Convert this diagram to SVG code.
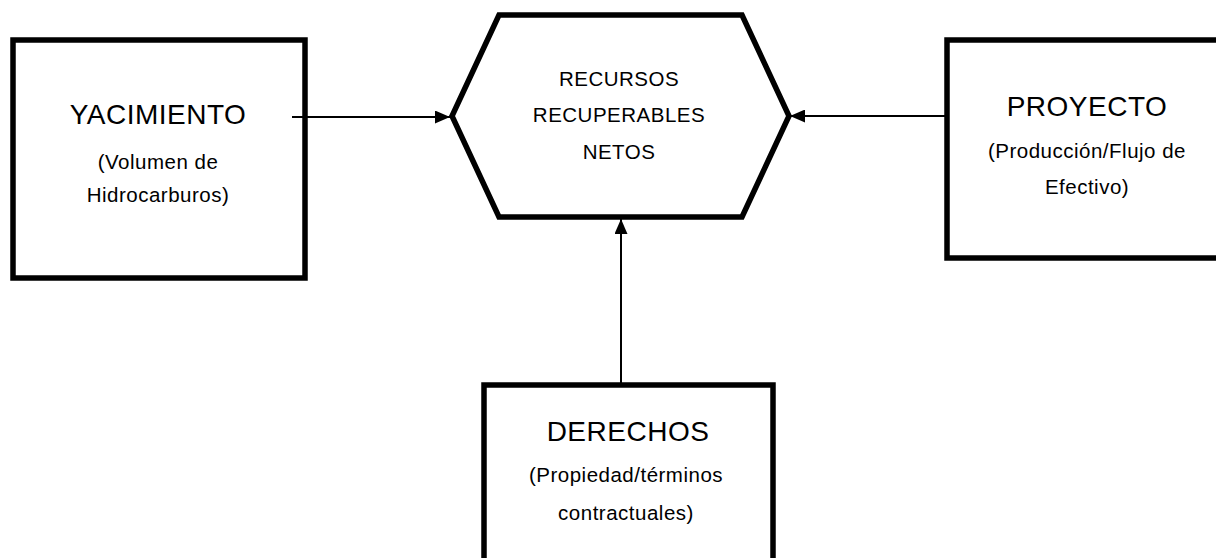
<svg xmlns="http://www.w3.org/2000/svg" width="1216" height="558" viewBox="0 0 1216 558">
<style>
.box{fill:#fff;stroke:#000;stroke-width:5.5}
.title{font-family:"Liberation Sans",Arial,sans-serif;font-size:28px;letter-spacing:0.5px;fill:#000;text-anchor:middle}
.sub{font-family:"Liberation Sans",Arial,sans-serif;font-size:20.5px;letter-spacing:0.5px;fill:#000;text-anchor:middle}
.conn{stroke:#000;stroke-width:2;fill:none}
</style>
<defs>
<marker id="ah" viewBox="0 0 15 13" refX="15" refY="6.5" markerWidth="15" markerHeight="13" markerUnits="userSpaceOnUse" orient="auto">
<path d="M0,0 L15,6.5 L0,13 Z" fill="#000"/>
</marker>
</defs>
<rect width="1216" height="558" fill="#fff"/>
<g id="yacimiento">
<rect class="box" x="13" y="40" width="292" height="238"/>
<text class="title" x="158" y="124">YACIMIENTO</text>
<text class="sub" x="158" y="169">(Volumen de</text>
<text class="sub" x="158" y="202">Hidrocarburos)</text>
</g>
<g id="recursos">
<polygon class="box" points="499,15 742,15 789,116 742,217 499,217 452,116"/>
<text class="sub" x="619" y="86">RECURSOS</text>
<text class="sub" x="619" y="122">RECUPERABLES</text>
<text class="sub" x="619" y="159">NETOS</text>
</g>
<g id="proyecto">
<rect class="box" x="947" y="40" width="280" height="218"/>
<text class="title" x="1087" y="116">PROYECTO</text>
<text class="sub" x="1087" y="158">(Producción/Flujo de</text>
<text class="sub" x="1087" y="194">Efectivo)</text>
</g>
<g id="derechos">
<rect class="box" x="484" y="385" width="289" height="190"/>
<text class="title" x="628" y="441">DERECHOS</text>
<text class="sub" x="626" y="482">(Propiedad/términos</text>
<text class="sub" x="626" y="520">contractuales)</text>
</g>
<g id="connectors">
<line class="conn" x1="292" y1="117" x2="450" y2="117" marker-end="url(#ah)"/>
<line class="conn" x1="947" y1="116" x2="790" y2="116" marker-end="url(#ah)"/>
<line class="conn" x1="621" y1="383" x2="621" y2="219" marker-end="url(#ah)"/>
</g>
</svg>
